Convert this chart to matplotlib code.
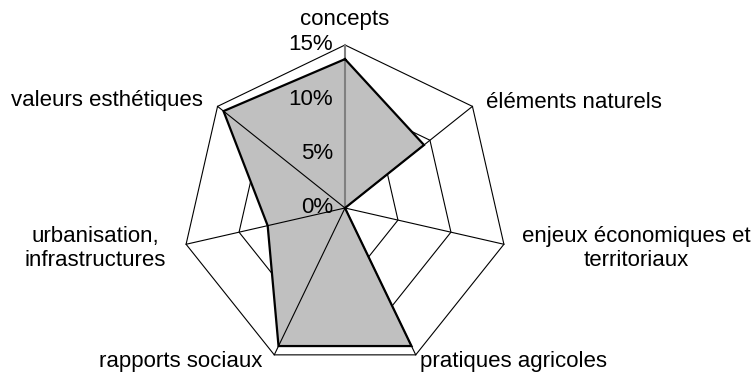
import numpy as np
import matplotlib
matplotlib.use("Agg")
import matplotlib.pyplot as plt

plt.rcParams['font.family'] = ['Liberation Sans', 'DejaVu Sans']

categories = [
    "concepts",
    "éléments naturels",
    "enjeux économiques et\nterritoriaux",
    "pratiques agricoles",
    "rapports sociaux",
    "urbanisation,\ninfrastructures",
    "valeurs esthétiques",
]
shares = [13.7, 9.3, 0.0, 14.1, 14.1, 7.3, 14.3]   # percent
ring_levels = [5, 10, 15]
tick_levels = [0, 5, 10, 15]
tick_labels = ["0%", "5%", "10%", "15%"]

n = len(categories)
theta = np.arange(n) * 2 * np.pi / n          # clockwise from the top


def to_xy(r, t):
    return np.asarray(r) * np.sin(t), np.asarray(r) * np.cos(t)


W, H, DPI = 755, 372, 100
fig = plt.figure(figsize=(W / DPI, H / DPI), dpi=DPI)
ax = fig.add_axes([0, 0, 1, 1])
ax.set_axis_off()

# 163 px for 15 %, centre at (345, 208) px
scale = 163 / 15.0
cx, cy = 345, 208
ax.set_xlim(-cx / scale, (W - cx) / scale)
ax.set_ylim(-(H - cy) / scale, cy / scale)

FS = 16

# heptagonal rings
for lev in ring_levels:
    x, y = to_xy([lev] * (n + 1), np.append(theta, theta[0]))
    ax.plot(x, y, color="black", lw=0.8, zorder=1)

# data polygon
px, py = to_xy(shares + shares[:1], np.append(theta, theta[0]))
ax.fill(px, py, color="#c0c0c0", zorder=2, lw=0)
ax.plot(px, py, color="black", lw=1.6, zorder=4, solid_joinstyle="miter")

# spokes
for i, t in enumerate(theta):
    sx, sy = to_xy([0, 15], [t, t])
    if i == 0:
        ax.plot(sx, sy, color="#808080", lw=1.5, zorder=3)
    else:
        ax.plot(sx, sy, color="black", lw=0.8, zorder=3)

# value labels along the top axis
for lev, lab in zip(tick_levels, tick_labels):
    ax.annotate(lab, xy=(0, lev), xytext=(-12, 0), textcoords="offset pixels",
                ha="right", va="center", fontsize=FS, zorder=5)

# category labels
label_style = [
    # (dx px, dy px, ha, va)
    (0, 20, "center", "baseline"),
    (14, -2, "left", "baseline"),
    (18, -4, "left", "center"),
    (4, -12, "left", "baseline"),
    (-12, -12, "right", "baseline"),
    (-20, -4, "right", "center"),
    (-15, 0, "right", "baseline"),
]
for lab, t, (dx, dy, ha, va) in zip(categories, theta, label_style):
    vx, vy = to_xy(15, t)
    ax.annotate(lab, xy=(vx, vy), xytext=(dx, dy), textcoords="offset pixels",
                ha=ha, va=va, multialignment="center", fontsize=FS,
                linespacing=1.2, zorder=5)

fig.savefig("out.png", dpi=DPI)
